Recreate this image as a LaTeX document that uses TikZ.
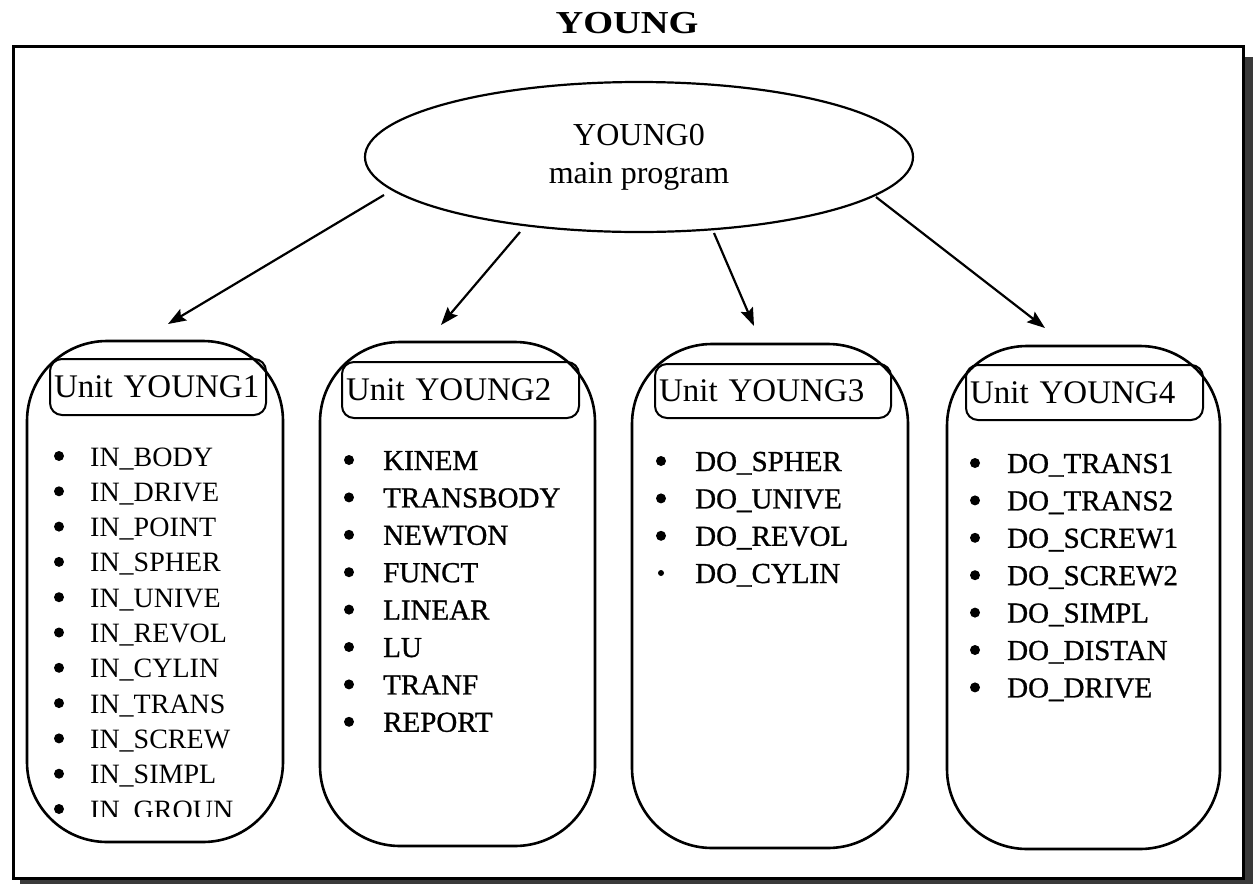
\documentclass[tikz,border=0pt]{standalone}
\usepackage{fontspec}
\setmainfont{Liberation Serif}
\newfontfamily\heavyfont{Liberation Serif}[FakeBold=0.9]
\usetikzlibrary{arrows.meta,shapes.geometric}
\definecolor{shadowgray}{HTML}{3A3A3A}
\begin{document}
\begin{tikzpicture}[x=1pt,y=-1pt,
  framebox/.style={draw, line width=3pt, inner sep=0pt},
  unitbox/.style={draw, line width=2.6pt, rounded corners=80pt, inner sep=0pt},
  labelbox/.style={draw, line width=2pt, rounded corners=12pt, inner xsep=4pt, inner ysep=0pt,
     align=left, anchor=west, font=\fontsize{33}{38}\selectfont},
  itemA/.style={anchor=base west, inner sep=0pt, font=\fontsize{28}{30}\selectfont},
  itemB/.style={anchor=base west, inner sep=0pt, font=\heavyfont\fontsize{29}{31}\selectfont},
  dot/.style={circle, fill=black, inner sep=0pt, minimum size=10pt},
  arr/.style={line width=2.2pt, -{Stealth[length=18pt,width=13pt,inset=3pt]}}]
\useasboundingbox (0,0) rectangle (1256,884);
% shadow and frame
\fill[shadowgray] (1242,57) rectangle (1253,884);
\fill[shadowgray] (20,877) rectangle (1253,884);
\node[framebox, anchor=north west, minimum width=1230pt, minimum height=832pt] (frame) at (12,45) {};
% title
\node[anchor=base, inner sep=0pt, font=\bfseries\fontsize{32}{36}\selectfont] (title) at (627,33) {\scalebox{1.2}[1]{YOUNG}};
% main ellipse
\node[ellipse, draw, line width=2.2pt, minimum width=548pt, minimum height=150pt, inner sep=0pt,
      align=center, font=\fontsize{32}{38}\selectfont] (main) at (639,157) {YOUNG0\\main program};
% unit boxes
\node[unitbox, minimum width=256pt, minimum height=501pt] (u1) at (155,591.5) {};
\node[unitbox, minimum width=275pt, minimum height=504pt] (u2) at (457.5,594) {};
\node[unitbox, minimum width=276pt, minimum height=504pt] (u3) at (770,596) {};
\node[unitbox, minimum width=273pt, minimum height=503pt] (u4) at (1083.5,597.5) {};
% labels
\node[labelbox, text width=208pt, minimum height=56pt] (l1) at (49,387) {Unit YOUNG1};
\node[labelbox, text width=229pt, minimum height=56pt] (l2) at (341,390) {Unit YOUNG2};
\node[labelbox, text width=228pt, minimum height=54pt] (l3) at (654,391) {Unit YOUNG3};
\node[labelbox, text width=229pt, minimum height=55pt] (l4) at (965,392.5) {Unit YOUNG4};
% arrows
\coordinate (s1) at (384,195); \coordinate (t1) at (168,324);
\coordinate (s2) at (520,232); \coordinate (t2) at (441,325);
\coordinate (s3) at (714,233); \coordinate (t3) at (754,326);
\coordinate (s4) at (876,197); \coordinate (t4) at (1045,328);
\draw[arr] (s1) -- (t1);
\draw[arr] (s2) -- (t2);
\draw[arr] (s3) -- (t3);
\draw[arr] (s4) -- (t4);
% column 1
\foreach \t [count=\i from 0] in {IN\_BODY,IN\_DRIVE,IN\_POINT,IN\_SPHER,IN\_UNIVE,IN\_REVOL,IN\_CYLIN,IN\_TRANS,IN\_SCREW,IN\_SIMPL}{
  \node[dot] (ad\i) at (59,{456+35.3*\i}) {};
  \node[itemA] (a\i) at (90,{466+35.3*\i}) {\t};
}
\node[dot] (ad10) at (59,809) {};
\begin{scope}
  \clip (80,780) rectangle (280,816);
  \node[itemA] (a10) at (90,819) {IN\_GROUN};
\end{scope}
% column 2
\foreach \t [count=\i from 0] in {KINEM,TRANSBODY,NEWTON,FUNCT,LINEAR,LU,TRANF,REPORT}{
  \node[dot] (bd\i) at (349,{460+37.4*\i}) {};
  \node[itemB] (b\i) at (383,{470+37.4*\i}) {\t};
}
% column 3
\foreach \t [count=\i from 0] in {DO\_SPHER,DO\_UNIVE,DO\_REVOL}{
  \node[dot] (cd\i) at (661,{461+37.4*\i}) {};
  \node[itemB] (c\i) at (695,{471+37.4*\i}) {\t};
}
\node[circle, fill=black, inner sep=0pt, minimum size=6pt] (cd3) at (661,573) {};
\node[itemB] (c3) at (695,583) {DO\_CYLIN};
% column 4
\foreach \t [count=\i from 0] in {DO\_TRANS1,DO\_TRANS2,DO\_SCREW1,DO\_SCREW2,DO\_SIMPL,DO\_DISTAN,DO\_DRIVE}{
  \node[dot] (dd\i) at (975,{463+37.4*\i}) {};
  \node[itemB] (d\i) at (1007,{473+37.4*\i}) {\t};
}
\end{tikzpicture}
\end{document}
